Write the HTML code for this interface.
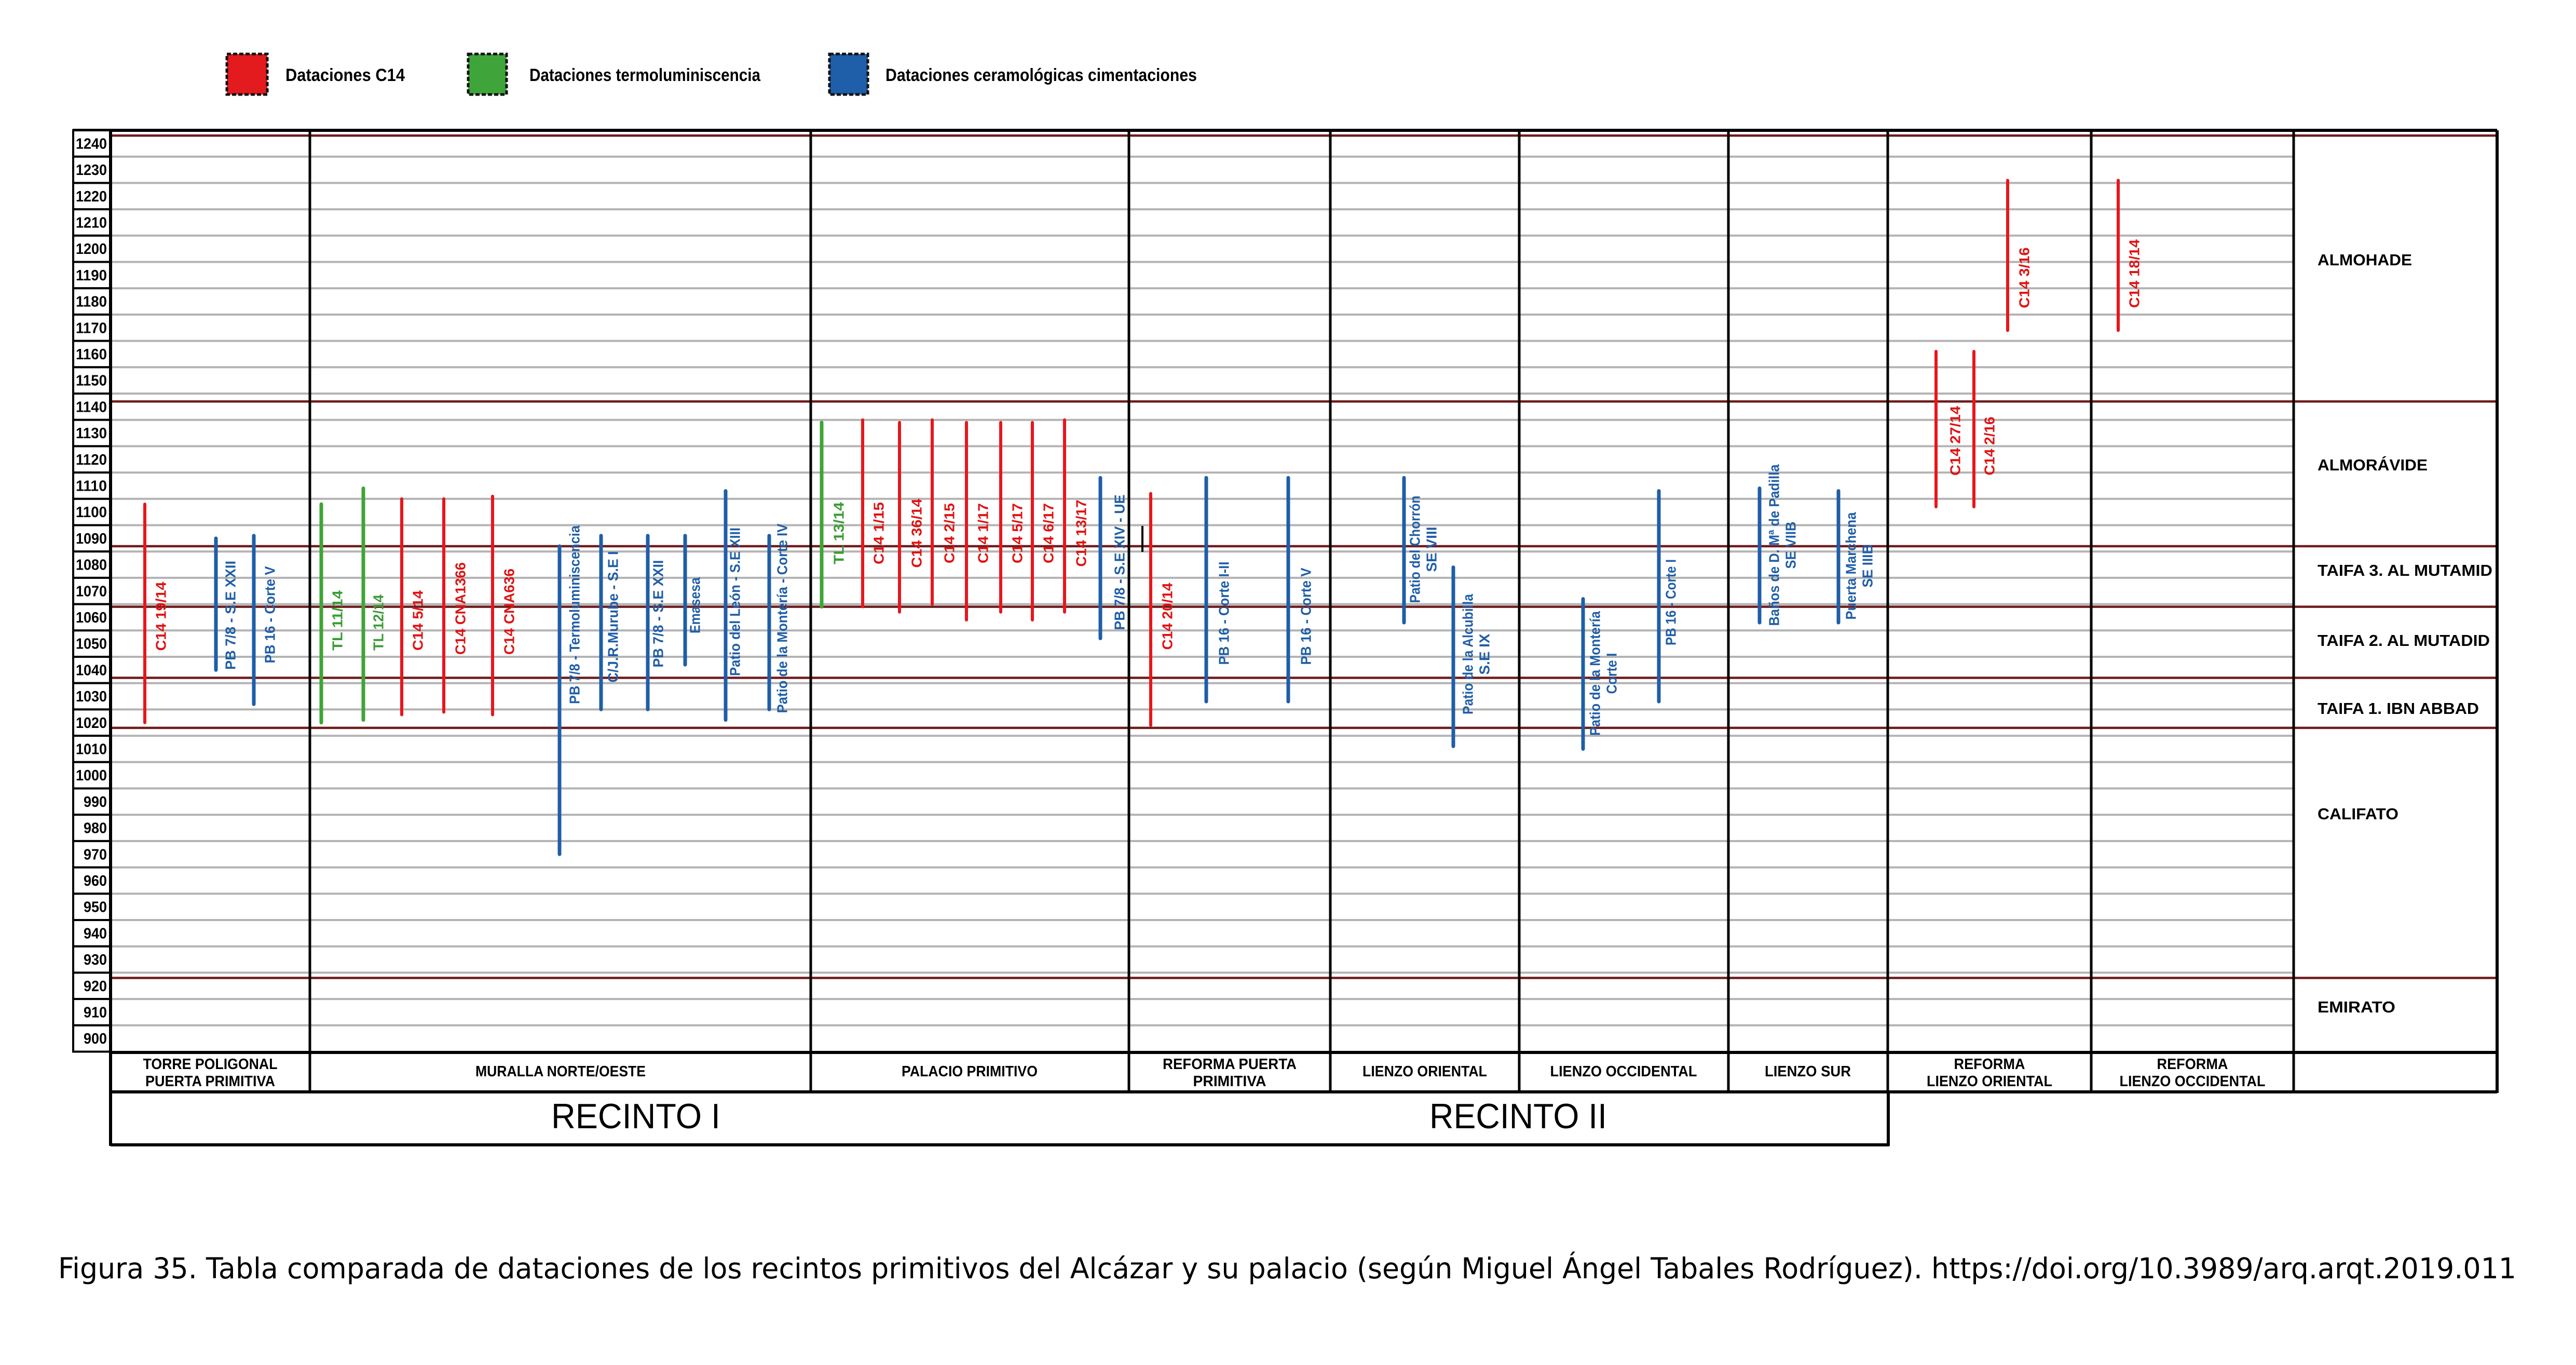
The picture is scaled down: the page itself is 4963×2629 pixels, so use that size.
<!DOCTYPE html>
<html><head><meta charset="utf-8"><style>
html,body{margin:0;padding:0;background:#fff;}
svg{display:block;}
text{font-family:"Liberation Sans",Arial,sans-serif;}
</style></head><body>
<svg id="chart" width="4963" height="2629" viewBox="0 0 4963 2629" xmlns="http://www.w3.org/2000/svg">
<g id="legend">
  <g>
    <rect x="437" y="104" width="78" height="78" fill="#e31b1f" stroke="#111" stroke-width="5" stroke-dasharray="8 4"/>
    <text x="550" y="156" font-size="34" font-weight="bold" textLength="230" lengthAdjust="spacingAndGlyphs">Dataciones C14</text>
  </g>
  <g>
    <rect x="902" y="104" width="74" height="78" fill="#3fa53a" stroke="#111" stroke-width="5" stroke-dasharray="8 4"/>
    <text x="1020" y="156" font-size="34" font-weight="bold" textLength="445" lengthAdjust="spacingAndGlyphs">Dataciones termoluminiscencia</text>
  </g>
  <g>
    <rect x="1598" y="104" width="74" height="78" fill="#1f5ea8" stroke="#111" stroke-width="5" stroke-dasharray="8 4"/>
    <text x="1706" y="156" font-size="34" font-weight="bold" textLength="600" lengthAdjust="spacingAndGlyphs">Dataciones ceramológicas cimentaciones</text>
  </g>
</g>
<g id="grid"></g>
<g id="eras"></g>
<g id="cols"></g>
<g id="years"></g>
<g id="bars"></g>
<g id="labels"></g>
<g id="periods"></g>
<g id="headers"></g>
<text x="112" y="2462" font-size="55" style="font-family:'DejaVu Sans',sans-serif" textLength="4736" lengthAdjust="spacingAndGlyphs">Figura 35. Tabla comparada de dataciones de los recintos primitivos del Alcázar y su palacio (según Miguel Ángel Tabales Rodríguez). https://doi.org/10.3989/arq.arqt.2019.011</text>
</svg>
<script>
// ---- data ----
const yearTicks = [1240,1230,1220,1210,1200,1190,1180,1170,1160,1150,1140,1130,1120,1110,1100,1090,1080,1070,1060,1050,1040,1030,1020,1010,1000,990,980,970,960,950,940,930,920,910,900];
const eraBounds = [1248,1147,1092,1069,1042,1023,928];
const periodNames = ["ALMOHADE","ALMORÁVIDE","TAIFA 3. AL MUTAMID","TAIFA 2. AL MUTADID","TAIFA 1. IBN ABBAD","CALIFATO","EMIRATO"];
const barTypes = ["c14","blue","blue","tl","tl","c14","c14","c14","blue","blue","blue","blue","blue","blue",
 "tl","c14","c14","c14","c14","c14","c14","c14","blue",
 "c14","blue","blue","blue","blue","blue","blue","blue","blue","c14","c14","c14","c14"];
const barStart = [1108,1095,1096,1108,1114,1110,1110,1111,1092,1096,1096,1096,1113,1096,
 1139,1140,1139,1140,1139,1139,1139,1140,1118,
 1112,1118,1118,1118,1084,1072,1113,1114,1113,1166,1166,1231,1231];
const barEnd = [1025,1045,1032,1025,1026,1028,1029,1028,975,1030,1030,1047,1026,1030,
 1069,1069,1067,1070,1064,1067,1064,1067,1057,
 1024,1033,1033,1063,1016,1015,1033,1063,1063,1107,1107,1174,1174];
const barNames = ["C14  19/14","PB 7/8 - S.E XXII","PB 16 - Corte V","TL  11/14","TL 12/14","C14  5/14","C14  CNA1366","C14  CNA636","PB 7/8 - Termoluminiscencia","C/J.R.Murube - S.E I","PB 7/8 - S.E XXII","Emasesa","Patio del León - S.E XIII","Patio de la Montería - Corte IV",
 "TL  13/14","C14  1/15","C14  36/14","C14  2/15","C14  1/17","C14  5/17","C14  6/17","C14  13/17","PB 7/8 - S.E XIV - UE",
 "C14  20/14","PB 16 - Corte I-II","PB 16 - Corte V","Patio del Chorrón|SE VIII","Patio de la Alcubilla|S.E IX","Patio de la Montería|Corte I","PB 16 - Corte I","Baños de D. Mª de Padilla|SE VIIB","Puerta Marchena|SE IIIB",
 "C14  27/14","C14 2/16","C14  3/16","C14  18/14"];
// ---- layout (not data) ----
const barX = [279,416,489,619,700,774,855,949,1078,1158,1248,1320,1398,1482,
 1583,1662,1733,1796,1862,1928,1989,2051,2120,
 2217,2324,2482,2705,2800,3050,3196,3390,3542,3730,3803,3868,4081];
const labelX = [310,444,520,650,729,805,887,981,1107,1181,1268,1339,1416,1507,
 1616,1693,1766,1829,1894,1960,2020,2083,2157,
 2249,2358,2516,2742,2844,3089,3219,3434,3582,3767,3833,3900,4112];
const labelY = [1187,1185,1184,1195,1199,1195,1172,1178,1184,1188,1182,1166,1159,1191,
 1027,1027,1027,1027,1027,1027,1027,1027,1083,
 1187,1181,1187,1058,1260,1297,1160,1050,1090,849,859,535,527];
const labelLen = [133,210,187,116,108,116,178,166,344,253,207,108,286,365,
 120,120,133,116,116,116,116,129,261,
 129,199,187,207,232,240,166,311,207,134,113,117,132];
const subLen = {26:87,27:79,28:79,30:91,31:83};
const colSep = [597,1562,2175,2563,2927,3330,3637,4029,4419];
const periodY = [500,895,1098,1233,1364,1567,1939];
const periodLen = [182,212,337,332,311,156,150];
const X0=213, XR=4811, XD=4419, TOP=251, ROWH=50.7;
const NS="http://www.w3.org/2000/svg";
const colors={c14:"#e8161c",tl:"#3ea535",blue:"#1f5ea8"};
const tcolors={c14:"#e01212",tl:"#3a9c34",blue:"#1f5ea8"};
function y(v){return TOP+(1250-v)*ROWH/10;}
function mk(tag,attrs,parent){const e=document.createElementNS(NS,tag);for(const k in attrs)e.setAttribute(k,attrs[k]);parent.appendChild(e);return e;}
const G=id=>document.getElementById(id);
yearTicks.forEach((t,i)=>{ if(i===0) return;
  const l=mk('line',{x1:X0,x2:XD,y1:y(t+10),y2:y(t+10),stroke:'#b3b3b3','stroke-width':4},G('grid'));
  
  
});
eraBounds.forEach(b=>{
  const l=mk('line',{x1:X0,x2:XR,y1:y(b),y2:y(b),stroke:'#6e1c1c','stroke-width':4.5},G('eras'));
  
  
});
yearTicks.forEach(t=>{
  const r=mk('rect',{x:141,y:y(t+10),width:71,height:ROWH,fill:'#fff',stroke:'#000','stroke-width':4},G('years'));
  
  
  const tx=mk('text',{x:206,y:y(t+5)+10,'font-size':29,'font-weight':'bold','text-anchor':'end',textLength:(t>=1000?60:45),lengthAdjust:'spacingAndGlyphs'},G('years'));
  tx.textContent=t;
  
  
});
const C=G('cols');
colSep.forEach(x=>{const l=mk('line',{x1:x,x2:x,y1:TOP,y2:2103,stroke:'#000','stroke-width':5},C);
  
  });
[[140,TOP,XR,TOP],[XR,TOP,XR,2105],[X0,2027,XR,2027],[X0,2103,XR,2103],[X0,TOP,X0,2207],[X0,2205,3640,2205],[3638,2103,3638,2207]].forEach(a=>{
  const l=mk('line',{x1:a[0],y1:a[1],x2:a[2],y2:a[3],stroke:'#000','stroke-width':6},C);
  
  });
const tk=mk('line',{x1:2201,x2:2201,y1:1013,y2:1063,stroke:'#000','stroke-width':4},C);


barStart.forEach((s,i)=>{
  const t=barTypes[i];
  const b=mk('line',{x1:barX[i],x2:barX[i],y1:y(s),y2:y(barEnd[i]),stroke:colors[t],'stroke-width':(t==='c14'?6:7),'stroke-linecap':'round'},G('bars'));
  
  
  const parts=barNames[i].split('|');
  parts.forEach((p,j)=>{
    const lx=labelX[i]+(parts.length>1?(j===0?-16:16):0);
    const len=j===0?labelLen[i]:subLen[i];
    const tx=mk('text',{x:lx,y:labelY[i],'font-size':28,'font-weight':'bold',fill:tcolors[t],'text-anchor':'middle','dominant-baseline':'central',transform:'rotate(-90 '+lx+' '+labelY[i]+')',textLength:len,lengthAdjust:'spacingAndGlyphs'},G('labels'));
    tx.textContent=p;
    
    
  });
});
periodNames.forEach((n,i)=>{
  const tx=mk('text',{x:4465,y:periodY[i]+11,'font-size':31,'font-weight':'bold',textLength:periodLen[i],lengthAdjust:'spacingAndGlyphs'},G('periods'));
  tx.textContent=n;
  
  
});
const heads=[[405,["TORRE POLIGONAL","PUERTA PRIMITIVA"],[259,250]],[1080,["MURALLA NORTE/OESTE"],[328]],[1868,["PALACIO PRIMITIVO"],[262]],[2369,["REFORMA PUERTA","PRIMITIVA"],[258,141]],[2745,["LIENZO ORIENTAL"],[240]],[3128,["LIENZO OCCIDENTAL"],[283]],[3483,["LIENZO SUR"],[166]],[3833,["REFORMA","LIENZO ORIENTAL"],[137,242]],[4224,["REFORMA","LIENZO OCCIDENTAL"],[137,281]]];
heads.forEach(h=>{
  h[1].forEach((s,j)=>{
    const yy=h[1].length===1?2073:(j===0?2059:2092);
    const tx=mk('text',{x:h[0],y:yy,'font-size':29,'font-weight':'bold','text-anchor':'middle',textLength:h[2][j],lengthAdjust:'spacingAndGlyphs'},G('headers'));
    tx.textContent=s;
    
    
  });
});
[[1225,"RECINTO I",326],[2925,"RECINTO II",342]].forEach(r=>{
  const tx=mk('text',{x:r[0],y:2173,'font-size':68,'text-anchor':'middle',textLength:r[2],lengthAdjust:'spacingAndGlyphs'},G('headers'));
  tx.textContent=r[1];
  
  
});
</script>
</body></html>
